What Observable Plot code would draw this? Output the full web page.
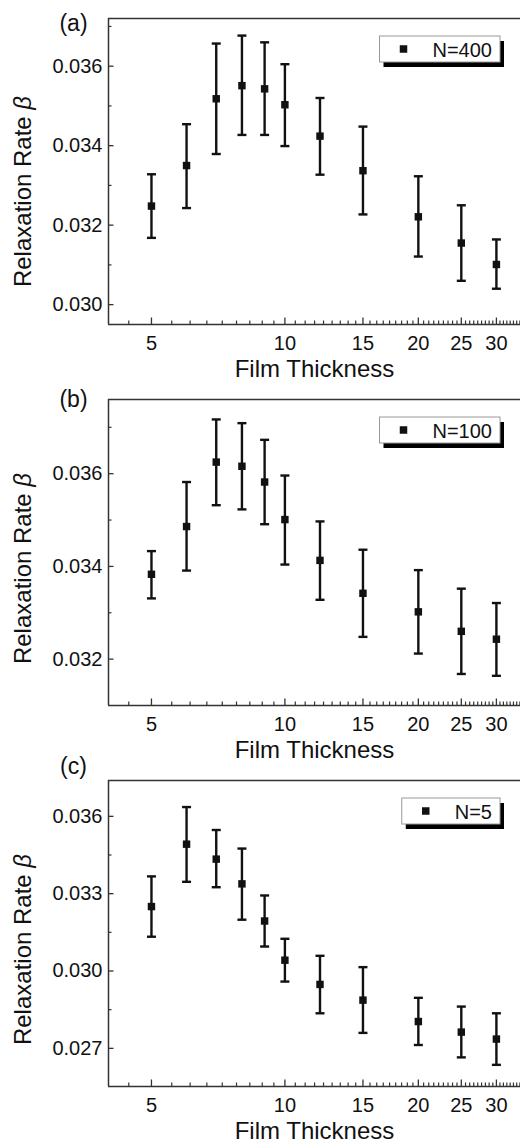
<!DOCTYPE html>
<html><head><meta charset="utf-8">
<script src="https://cdn.jsdelivr.net/npm/d3@7"></script>
<script src="https://cdn.jsdelivr.net/npm/@observablehq/plot@0.6"></script>
<style>
body{margin:0;background:#fff;font-family:"Liberation Sans",Arial,sans-serif;}
svg{display:block;overflow:visible;}
</style></head><body><div id="chart"></div>
<script>
// ---- data ----
const thickness = [5, 6, 7, 8, 9, 10, 12, 15, 20, 25, 30];

const n400Mean = [0.03248, 0.03350, 0.03518, 0.03551, 0.03543, 0.03503, 0.03424, 0.03337, 0.03221, 0.03155, 0.03101];
const n400Low  = [0.03168, 0.03243, 0.03379, 0.03427, 0.03427, 0.03399, 0.03327, 0.03227, 0.03121, 0.03060, 0.03040];
const n400High = [0.03328, 0.03454, 0.03657, 0.03677, 0.03660, 0.03605, 0.03520, 0.03448, 0.03323, 0.03250, 0.03164];

const n100Mean = [0.03383, 0.03486, 0.03625, 0.03616, 0.03582, 0.03501, 0.03413, 0.03342, 0.03302, 0.03260, 0.03243];
const n100Low  = [0.03331, 0.03391, 0.03532, 0.03523, 0.03491, 0.03404, 0.03328, 0.03248, 0.03212, 0.03168, 0.03164];
const n100High = [0.03433, 0.03582, 0.03717, 0.03709, 0.03673, 0.03596, 0.03497, 0.03436, 0.03392, 0.03352, 0.03321];

const n5Mean = [0.03250, 0.03492, 0.03434, 0.03338, 0.03194, 0.03042, 0.02948, 0.02887, 0.02804, 0.02763, 0.02736];
const n5Low  = [0.03133, 0.03346, 0.03325, 0.03199, 0.03095, 0.02959, 0.02836, 0.02760, 0.02713, 0.02665, 0.02636];
const n5High = [0.03367, 0.03636, 0.03547, 0.03475, 0.03293, 0.03125, 0.03059, 0.03015, 0.02896, 0.02862, 0.02836];

const panelNames = ["(a)", "(b)", "(c)"];
const legendLabels = ["N=400", "N=100", "N=5"];
const xTickLabels = [5, 10, 15, 20, 25, 30];
const xDomain = [4, 34];
const yDomains = [[0.0295, 0.0372], [0.0310, 0.0376], [0.02552, 0.03739]];
const yMajorTicks = [[0.030, 0.032, 0.034, 0.036], [0.032, 0.034, 0.036], [0.027, 0.030, 0.033, 0.036]];
const yMinorTicks = [[0.031, 0.033, 0.035, 0.037], [0.033, 0.035, 0.037], [0.0285, 0.0315, 0.0345]];
const xTitle = "Film Thickness";
const yTitle = "Relaxation Rate β";

// ---- layout ----
const W = 520, H = 381, mL = 108, mT = 18, mB = 57;
const panelLabelDy = [5, 0, -14];
const yTitleDy = [20, 16, 16];
const ink = "#111", axisInk = "#333";
const fmtY = d3.format(".3f");

const series = [
  [n400Mean, n400Low, n400High],
  [n100Mean, n100Low, n100High],
  [n5Mean, n5Low, n5High]
];

const seg = (x1, y1, x2, y2) => ({draw(ctx) { ctx.moveTo(x1, y1); ctx.lineTo(x2, y2); }});
const capSym = seg(-4.5, 0, 4.5, 0);
const yMajorSym = seg(0, 0, 5, 0);
const yMinorSym = seg(0, 0, 3, 0);
const xMajorSym = seg(0, 0, 0, -7);
const xMinorSym = seg(0, 0, 0, -4);

const minorStep = 5 / 9;
const xAllTicks = d3.range(-1, 54).map(k => 5 + k * minorStep).filter(v => v > xDomain[0] && v < xDomain[1]);
const isMult5 = v => Math.abs(v / 5 - Math.round(v / 5)) < 1e-6;
const xMajor = xAllTicks.filter(isMult5);
const xMinor = xAllTicks.filter(v => !isMult5(v));

const root = document.getElementById("chart");

series.forEach(([mean, lo, hi], p) => {
  const rows = thickness.map((t, i) => ({t, mean: mean[i], lo: lo[i], hi: hi[i]}));
  const yDomain = yDomains[p];
  const svgNode = Plot.plot({
    width: W, height: H, marginLeft: mL, marginRight: 0, marginTop: mT, marginBottom: mB,
    style: {fontFamily: '"Liberation Sans", Arial, sans-serif', background: "white", color: "#111", overflow: "visible"},
    x: {type: "log", domain: xDomain, axis: null},
    y: {domain: yDomain, axis: null},
    marks: [
      Plot.text(xTickLabels, {x: d => d, text: d => String(d), frameAnchor: "bottom", dy: 11, lineAnchor: "top", fontSize: 20, fill: ink}),
      Plot.text(yMajorTicks[p], {y: d => d, text: d => fmtY(d), frameAnchor: "left", dx: -6, textAnchor: "end", lineAnchor: "middle", fontSize: 20, fill: ink}),
      Plot.ruleX([xDomain[0]], {stroke: axisInk, strokeWidth: 1.5}),
      Plot.ruleY([yDomain[0]], {stroke: axisInk, strokeWidth: 1.5}),
      Plot.ruleY([yDomain[1]], {stroke: axisInk, strokeWidth: 1.5}),
      Plot.dot(xMinor, {x: d => d, frameAnchor: "bottom", symbol: xMinorSym, stroke: axisInk, strokeWidth: 1.2, fill: "none"}),
      Plot.dot(xMajor, {x: d => d, frameAnchor: "bottom", symbol: xMajorSym, stroke: axisInk, strokeWidth: 1.3, fill: "none"}),
      Plot.dot(yMinorTicks[p], {y: d => d, frameAnchor: "left", symbol: yMinorSym, stroke: axisInk, strokeWidth: 1.2, fill: "none"}),
      Plot.dot(yMajorTicks[p], {y: d => d, frameAnchor: "left", symbol: yMajorSym, stroke: axisInk, strokeWidth: 1.3, fill: "none"}),
      Plot.ruleX(rows, {x: "t", y1: "lo", y2: "hi", stroke: ink, strokeWidth: 2.4}),
      Plot.dot(rows, {x: "t", y: "lo", symbol: capSym, stroke: ink, strokeWidth: 2.4, fill: "none"}),
      Plot.dot(rows, {x: "t", y: "hi", symbol: capSym, stroke: ink, strokeWidth: 2.4, fill: "none"}),
      Plot.dot(rows, {x: "t", y: "mean", symbol: "square", r: 4.2, fill: ink, stroke: "none"}),
      Plot.text([panelNames[p]], {text: d => d, frameAnchor: "top-left", dx: -35, dy: panelLabelDy[p], fontSize: 23, textAnchor: "middle", lineAnchor: "middle", fill: ink}),
      Plot.text([xTitle], {text: d => d, frameAnchor: "bottom", dy: 45, fontSize: 24, lineAnchor: "middle", fill: ink}),
      Plot.text([yTitle], {text: d => d, frameAnchor: "left", dx: -85, dy: yTitleDy[p], rotate: -90, fontSize: 24, textAnchor: "middle", lineAnchor: "middle", fill: ink})
    ]
  });
  root.appendChild(svgNode);
  const svg = d3.select(svgNode);

  // italic beta in the y title
  svg.selectAll("text").filter(function() { return this.textContent === yTitle; }).each(function() {
    const t = d3.select(this);
    t.text(null);
    t.append("tspan").text("Relaxation Rate ");
    t.append("tspan").attr("font-style", "italic").text("β");
  });

  // legend box with drop shadow
  const g = svg.append("g");
  const boxTop = mT + 18, boxH = 26, boxRight = W - 20, textRight = W - 28;
  const txt = g.append("text").attr("x", textRight).attr("y", boxTop + boxH / 2 + 1)
    .attr("text-anchor", "end").attr("dominant-baseline", "central")
    .attr("font-size", 20).attr("fill", ink).text(legendLabels[p]);
  const tw = txt.node().getComputedTextLength();
  const boxLeft = textRight - tw - 53;
  g.insert("rect", "text").attr("x", boxLeft + 4).attr("y", boxTop + 5).attr("width", boxRight - boxLeft).attr("height", boxH).attr("fill", "#000");
  g.insert("rect", "text").attr("x", boxLeft).attr("y", boxTop).attr("width", boxRight - boxLeft).attr("height", boxH).attr("fill", "#fff").attr("stroke", "#999").attr("stroke-width", 1);
  g.append("rect").attr("x", boxLeft + 24 - 3.75).attr("y", boxTop + boxH / 2 - 3.75).attr("width", 7.5).attr("height", 7.5).attr("fill", ink);
});
</script>
</body></html>
